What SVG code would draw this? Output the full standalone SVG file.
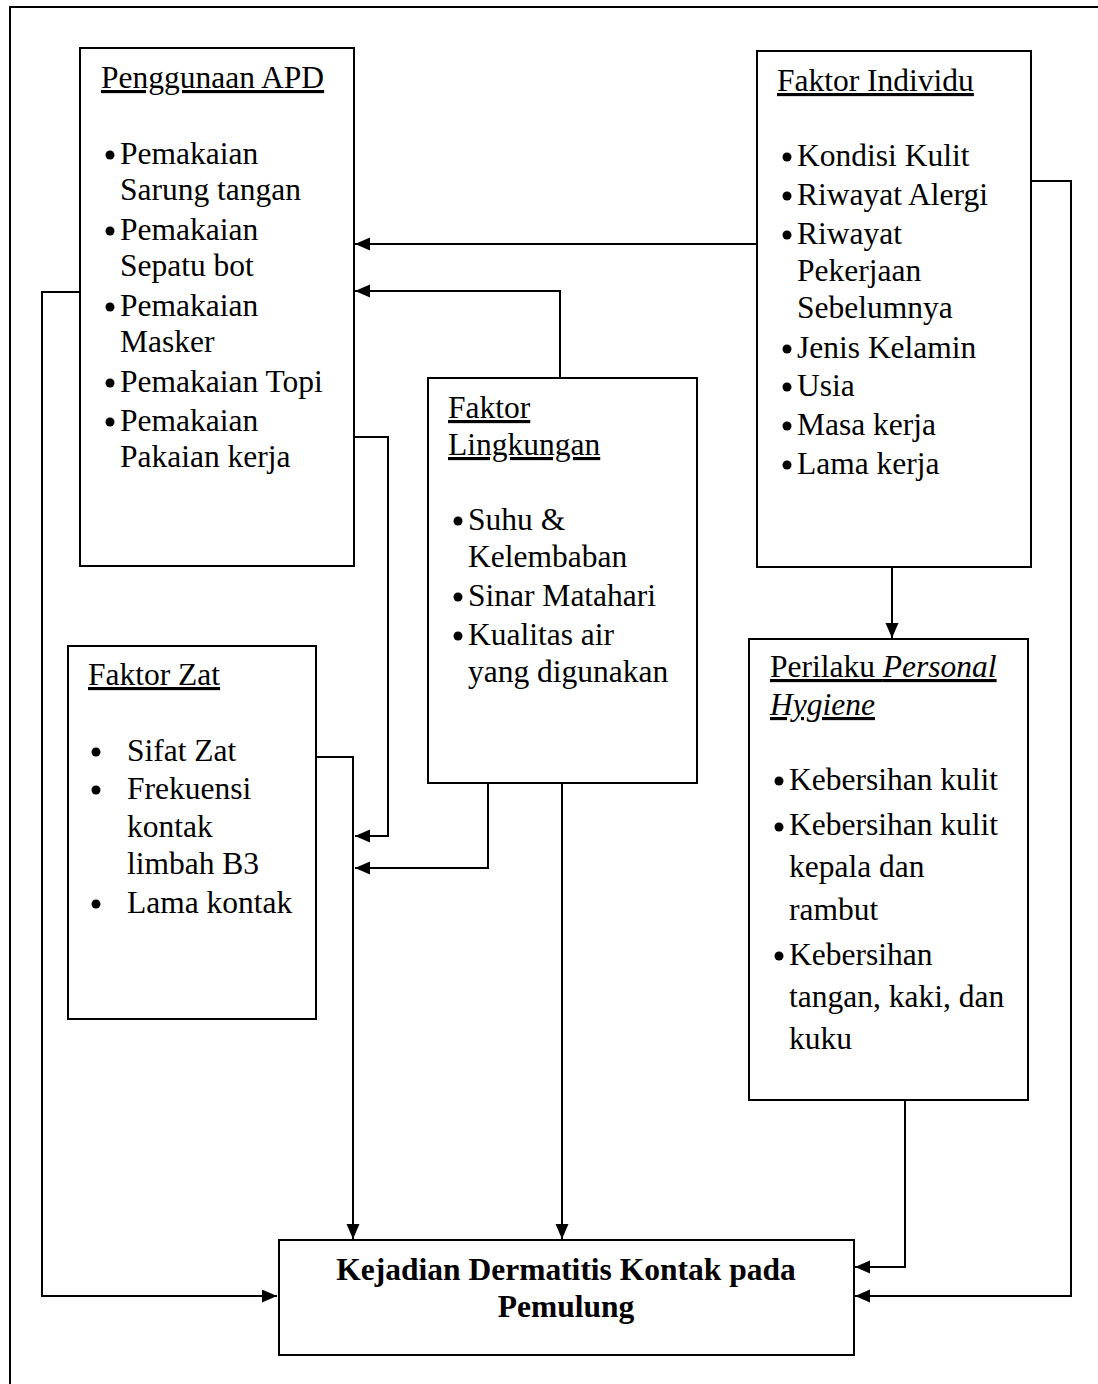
<svg xmlns="http://www.w3.org/2000/svg" width="1098" height="1384" viewBox="0 0 1098 1384">
<style>
.box{fill:#fff;stroke:#000;stroke-width:2}
.t{font-family:"Liberation Serif","Times New Roman",serif;font-size:31.5px;fill:#000}
.u{text-decoration:underline}
.b{font-weight:bold}
.c{stroke:#000;stroke-width:2;fill:none}
.a{marker-end:url(#ah)}
</style>
<defs>
<marker id="ah" markerUnits="userSpaceOnUse" markerWidth="16" markerHeight="14" refX="15" refY="6.5" orient="auto">
<path d="M0,0 L15,6.5 L0,13 z" fill="#000"/>
</marker>
</defs>
<rect x="0" y="0" width="1098" height="1384" fill="#fff"/>
<rect x="10" y="7" width="1110" height="1400" fill="none" stroke="#000" stroke-width="2"/>

<g id="connectors">
<path class="c a" d="M756,244 L355,244"/>
<path class="c a" d="M560,378 L560,291 L355,291"/>
<path class="c a" d="M354,437 L388,437 L388,836 L355,836"/>
<path class="c a" d="M488,783 L488,868 L355,868"/>
<path class="c a" d="M316,757 L353,757 L353,1239"/>
<path class="c a" d="M562,783 L562,1239"/>
<path class="c a" d="M80,292 L42,292 L42,1296 L277,1296"/>
<path class="c a" d="M1031,181 L1071,181 L1071,1296 L855,1296"/>
<path class="c a" d="M892,567 L892,638"/>
<path class="c a" d="M905,1100 L905,1267 L855,1267"/>
</g>

<g id="apd">
<rect class="box" x="80" y="48" width="274" height="518"/>
<text class="t u" x="101" y="88">Penggunaan APD</text>
<g fill="#000">
<circle cx="110" cy="155" r="4.5"/><circle cx="110" cy="231" r="4.5"/><circle cx="110" cy="307" r="4.5"/><circle cx="110" cy="383" r="4.5"/><circle cx="110" cy="422" r="4.5"/>
</g>
<text class="t" x="120" y="164">Pemakaian</text>
<text class="t" x="120" y="200">Sarung tangan</text>
<text class="t" x="120" y="240">Pemakaian</text>
<text class="t" x="120" y="276">Sepatu bot</text>
<text class="t" x="120" y="316">Pemakaian</text>
<text class="t" x="120" y="352">Masker</text>
<text class="t" x="120" y="392">Pemakaian Topi</text>
<text class="t" x="120" y="431">Pemakaian</text>
<text class="t" x="120" y="467">Pakaian kerja</text>
</g>

<g id="individu">
<rect class="box" x="757" y="51" width="274" height="516"/>
<text class="t u" x="777" y="91">Faktor Individu</text>
<g fill="#000">
<circle cx="787" cy="157" r="4.5"/><circle cx="787" cy="196" r="4.5"/><circle cx="787" cy="235" r="4.5"/><circle cx="787" cy="349" r="4.5"/><circle cx="787" cy="387" r="4.5"/><circle cx="787" cy="426" r="4.5"/><circle cx="787" cy="465" r="4.5"/>
</g>
<text class="t" x="797" y="166">Kondisi Kulit</text>
<text class="t" x="797" y="205">Riwayat Alergi</text>
<text class="t" x="797" y="244">Riwayat</text>
<text class="t" x="797" y="281">Pekerjaan</text>
<text class="t" x="797" y="318">Sebelumnya</text>
<text class="t" x="797" y="358">Jenis Kelamin</text>
<text class="t" x="797" y="396">Usia</text>
<text class="t" x="797" y="435">Masa kerja</text>
<text class="t" x="797" y="474">Lama kerja</text>
</g>

<g id="lingkungan">
<rect class="box" x="428" y="378" width="269" height="405"/>
<text class="t u" x="448" y="418">Faktor</text>
<text class="t u" x="448" y="455">Lingkungan</text>
<g fill="#000">
<circle cx="458" cy="521" r="4.5"/><circle cx="458" cy="597" r="4.5"/><circle cx="458" cy="636" r="4.5"/>
</g>
<text class="t" x="468" y="530">Suhu &amp;</text>
<text class="t" x="468" y="567">Kelembaban</text>
<text class="t" x="468" y="606">Sinar Matahari</text>
<text class="t" x="468" y="645">Kualitas air</text>
<text class="t" x="468" y="682">yang digunakan</text>
</g>

<g id="zat">
<rect class="box" x="68" y="646" width="248" height="373"/>
<text class="t u" x="88" y="685">Faktor Zat</text>
<g fill="#000">
<circle cx="96" cy="752" r="4.5"/><circle cx="96" cy="790" r="4.5"/><circle cx="96" cy="904" r="4.5"/>
</g>
<text class="t" x="127" y="761">Sifat Zat</text>
<text class="t" x="127" y="799">Frekuensi</text>
<text class="t" x="127" y="837">kontak</text>
<text class="t" x="127" y="874">limbah B3</text>
<text class="t" x="127" y="913">Lama kontak</text>
</g>

<g id="perilaku">
<rect class="box" x="749" y="639" width="279" height="461"/>
<text class="t u" x="770" y="677">Perilaku <tspan font-style="italic">Personal</tspan></text>
<text class="t u" x="770" y="715" font-style="italic">Hygiene</text>
<g fill="#000">
<circle cx="779" cy="781" r="4.5"/><circle cx="779" cy="827" r="4.5"/><circle cx="779" cy="956" r="4.5"/>
</g>
<text class="t" x="789" y="790">Kebersihan kulit</text>
<text class="t" x="789" y="835">Kebersihan kulit</text>
<text class="t" x="789" y="877">kepala dan</text>
<text class="t" x="789" y="920">rambut</text>
<text class="t" x="789" y="965">Kebersihan</text>
<text class="t" x="789" y="1007">tangan, kaki, dan</text>
<text class="t" x="789" y="1049">kuku</text>
</g>

<g id="kejadian">
<rect class="box" x="279" y="1240" width="575" height="115"/>
<text class="t b" x="566" y="1280" text-anchor="middle">Kejadian Dermatitis Kontak pada</text>
<text class="t b" x="566" y="1317" text-anchor="middle">Pemulung</text>
</g>
</svg>
